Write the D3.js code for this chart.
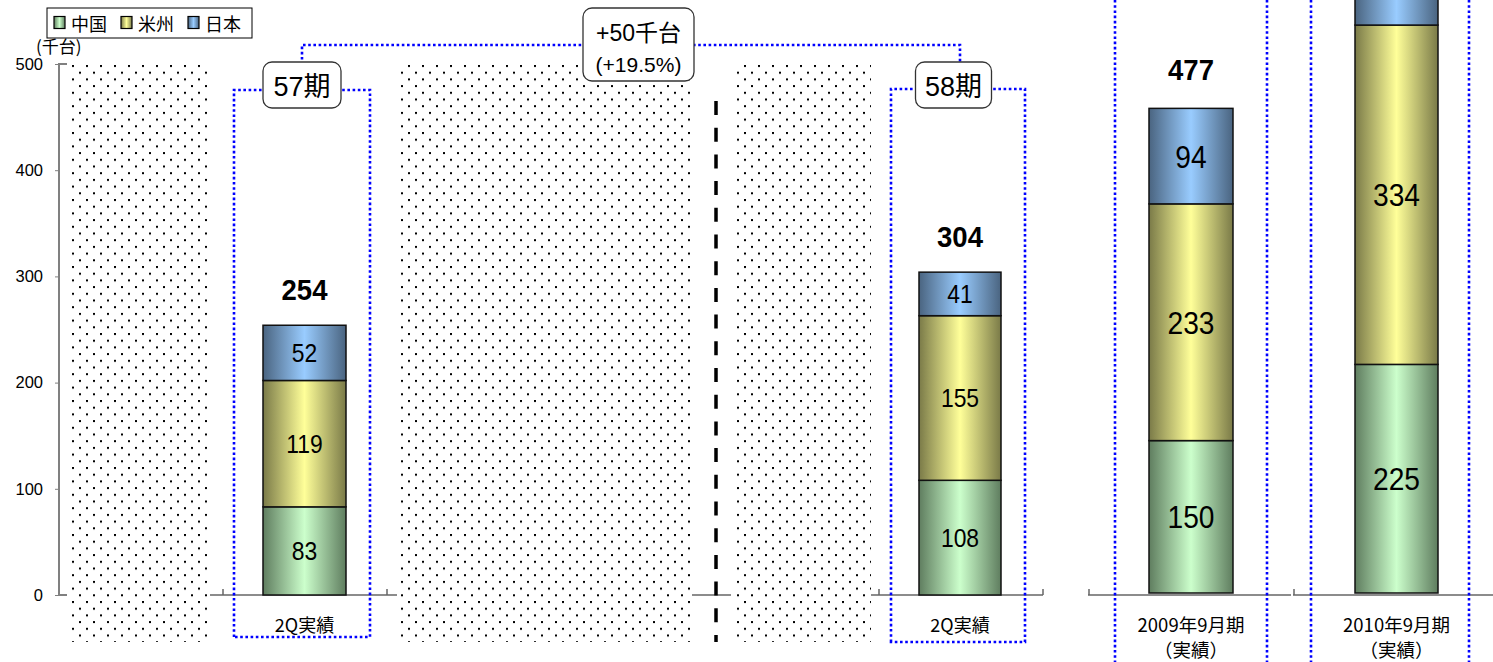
<!DOCTYPE html>
<html><head><meta charset="utf-8">
<script src="https://cdn.jsdelivr.net/npm/d3@7"></script>
<style>
html,body{margin:0;padding:0;background:#fff;overflow:hidden}
svg{display:block}
text{font-family:"Liberation Sans","Noto Sans CJK JP",sans-serif}
</style></head>
<body>
<svg id="c" width="1493" height="662"></svg>
<script>
// ---- data ----
const categories = ["57期 2Q実績", "58期 2Q実績", "2009年9月期（実績）", "2010年9月期（実績）"];
const xLabels = [["2Q実績"], ["2Q実績"], ["2009年9月期", "（実績）"], ["2010年9月期", "（実績）"]];
const seriesNames = ["中国", "米州", "日本"];
const china = [83, 108, 150, 225];
const americas = [119, 155, 233, 334];
const japan = [52, 41, 94, 92];
const yTicks = [0, 100, 200, 300, 400, 500];
const periodLabels = ["57期", "58期"];
const diffLabel = ["+50千台", "(+19.5%)"];
const unitLabel = "(千台)";

// ---- setup ----
const svg = d3.select("#c");
const defs = svg.append("defs");
const colors = [
  {light: "#ccffcc", dark: "#5f7d5f"},
  {light: "#ffff99", dark: "#7a7a48"},
  {light: "#99ccff", dark: "#4a6480"}
];
colors.forEach((c, i) => {
  const g = defs.append("linearGradient").attr("id", "g" + i).attr("x1", 0).attr("x2", 1).attr("y1", 0).attr("y2", 0);
  g.append("stop").attr("offset", "0%").attr("stop-color", c.dark);
  g.append("stop").attr("offset", "50%").attr("stop-color", c.light);
  g.append("stop").attr("offset", "100%").attr("stop-color", c.dark);
});
const pat = defs.append("pattern").attr("id", "dots").attr("patternUnits", "userSpaceOnUse")
  .attr("width", 14).attr("height", 13.4).attr("x", 72).attr("y", 65);
pat.append("rect").attr("x", 0).attr("y", 0).attr("width", 2).attr("height", 2).attr("fill", "#000");
pat.append("rect").attr("x", 7).attr("y", 6.7).attr("width", 2).attr("height", 2).attr("fill", "#000");

// dotted background areas
[[70, 208], [397, 694], [733, 871]].forEach(([a, b]) => {
  svg.append("rect").attr("x", a).attr("y", 62).attr("width", b - a).attr("height", 580).attr("fill", "url(#dots)");
});

// scales
const yL = d3.scaleLinear().domain([0, 500]).range([595, 64]);
const yR = d3.scaleLinear().domain([0, 500]).range([593, 593 - 508]);
const yScales = [yL, yL, yR, yR];
const x = d3.scaleOrdinal().domain(categories).range([304.5, 960, 1191, 1396.5]);
const barW = [83, 82, 84, 83];

// y axis
const axis = svg.append("g").attr("transform", "translate(59,0)")
  .call(d3.axisLeft(yL).tickValues(yTicks).tickSize(4).tickPadding(12));
axis.select(".domain").attr("stroke", "#808080").attr("stroke-width", 2).attr("d", "M8,64H0V595H8");
axis.selectAll(".tick line").attr("stroke", "#808080");
axis.selectAll(".tick text").attr("font-size", 16.5).attr("fill", "#000").style("font-family", "Liberation Sans");
svg.append("text").attr("x", 36).attr("y", 53).attr("font-size", 17).style("font-family", "Noto Sans CJK JP").text(unitLabel);

// baseline segments
const base = svg.append("g").attr("stroke", "#666").attr("stroke-width", 1.5).attr("fill", "none");
[[210, 397, [223, 387]], [692, 731, []], [871, 1043, [879, 1043]], [1088, 1291, [1089]], [1293, 1493, [1294]]]
  .forEach(([a, b, t]) => {
    base.append("line").attr("x1", a).attr("x2", b).attr("y1", yL(0)).attr("y2", yL(0));
    t.forEach(tx => base.append("line").attr("x1", tx).attr("x2", tx).attr("y1", yL(0) - 6).attr("y2", yL(0)));
  });

// blue dotted frames
const blue = svg.append("g").attr("stroke", "#0000ff").attr("stroke-width", 2.6).attr("fill", "none").attr("stroke-dasharray", "2.6,2.6");
blue.append("path").attr("d", "M234,637V90H370V637Z");
blue.append("path").attr("d", "M891,642V89H1025V642Z");
blue.append("path").attr("d", "M302,70V45H960V70");
[1115, 1267, 1311, 1469].forEach(bx => blue.append("line").attr("x1", bx).attr("x2", bx).attr("y1", 0).attr("y2", 662));

// dashed divider
svg.append("line").attr("x1", 716).attr("x2", 716).attr("y1", 101).attr("y2", 642)
  .attr("stroke", "#000").attr("stroke-width", 3.5).attr("stroke-dasharray", "14,12.7");

// stacked bars
const stackData = categories.map((c, i) => ({cat: c, "中国": china[i], "米州": americas[i], "日本": japan[i]}));
const stacked = d3.stack().keys(seriesNames)(stackData);
const barsG = svg.append("g");
stacked.forEach((layer, si) => {
  layer.forEach((d, i) => {
    const ys = yScales[i];
    const cx = x(categories[i]), w = barW[i];
    barsG.append("rect").attr("x", cx - w / 2).attr("y", ys(d[1])).attr("width", w).attr("height", ys(d[0]) - ys(d[1]))
      .attr("fill", `url(#g${si})`).attr("stroke", "#111").attr("stroke-width", 1.5);
    const big = i >= 2;
    const my = (ys(d[0]) + ys(d[1])) / 2;
    if (my > 10) {
      barsG.append("text").attr("transform", `translate(${cx},${my}) scale(0.88,1)`).attr("dy", "0.36em").attr("text-anchor", "middle")
        .attr("font-size", big ? 32 : 26).style("font-family", "Liberation Sans")
        .text(d.data[seriesNames[si]]);
    }
  });
});
// totals
categories.forEach((c, i) => {
  const tot = china[i] + americas[i] + japan[i];
  const ty = yScales[i](tot) - (i >= 2 ? 28 : 25);
  if (ty > 20) {
    svg.append("text").attr("transform", `translate(${x(c)},${ty}) scale(0.95,1)`).attr("text-anchor", "middle")
      .attr("font-size", 29).attr("font-weight", "bold").text(tot);
  }
});
// x labels
categories.forEach((c, i) => {
  xLabels[i].forEach((t, k) => {
    svg.append("text").attr("x", x(c)).attr("y", 632 + k * 25).attr("text-anchor", "middle")
      .attr("font-size", i >= 2 ? 18.5 : 18).style("font-family", "Noto Sans CJK JP").text(t);
  });
});

// callouts
function callout(cx, y0, w, h, lines, fs, dy) {
  svg.append("rect").attr("x", cx - w / 2).attr("y", y0).attr("width", w).attr("height", h).attr("rx", 9)
    .attr("fill", "#fff").attr("stroke", "#333").attr("stroke-width", 1.3);
  lines.forEach((t, k) => {
    svg.append("text").attr("x", cx).attr("y", y0 + dy + k * 31).attr("text-anchor", "middle")
      .attr("font-size", fs[k]).style("font-family", "Liberation Sans, Noto Sans CJK JP").text(t);
  });
}
callout(302, 62, 78, 46, [periodLabels[0]], [27], 34);
callout(953.5, 62, 76, 46, [periodLabels[1]], [27], 34);
callout(638.5, 8, 111, 73, diffLabel, [23, 21], 33);

// legend
const lg = svg.append("g");
lg.append("rect").attr("x", 47).attr("y", 8).attr("width", 205).attr("height", 30).attr("fill", "#fff").attr("stroke", "#000").attr("stroke-width", 1);
const lx = [54, 121, 188];
seriesNames.forEach((s, i) => {
  lg.append("rect").attr("x", lx[i]).attr("y", 16.5).attr("width", 11).attr("height", 12)
    .attr("fill", `url(#g${i})`).attr("stroke", "#000").attr("stroke-width", 1.2);
  lg.append("text").attr("x", lx[i] + 17).attr("y", 30.5).attr("font-size", 18).style("font-family", "Noto Sans CJK JP").text(s);
});
</script>
</body></html>
